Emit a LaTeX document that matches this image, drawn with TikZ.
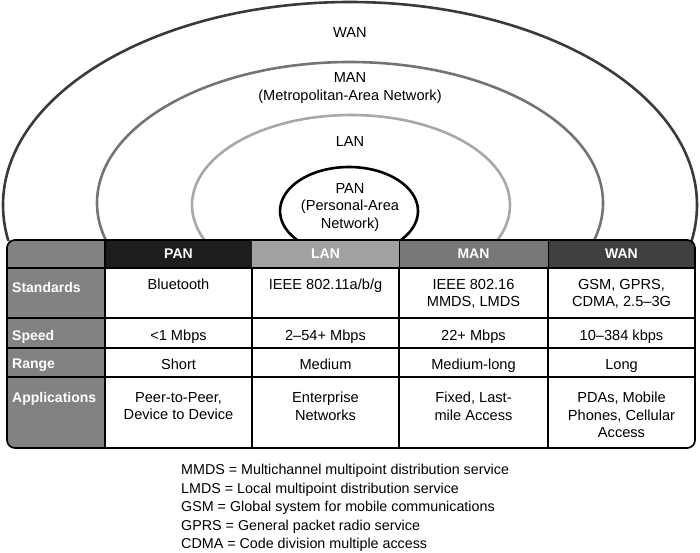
\documentclass[tikz,border=0pt]{standalone}
\usepackage{fontspec}
\setmainfont{Liberation Sans}
\usetikzlibrary{calc}
\usetikzlibrary{positioning}
\definecolor{wanring}{HTML}{3A3A3A}
\definecolor{manring}{HTML}{747474}
\definecolor{lanring}{HTML}{A8A8A8}
\definecolor{sidegray}{HTML}{828282}
\definecolor{panhead}{HTML}{1E1E1E}
\definecolor{lanhead}{HTML}{A2A2A2}
\definecolor{manhead}{HTML}{777777}
\definecolor{wanhead}{HTML}{404040}
\newcommand{\colorw}{wanring}
\newcommand{\colorm}{manring}
\newcommand{\colorl}{lanring}
\tikzset{
  ring/.style={line width=2.6pt},
  headtxt/.style={text=white, font=\fontsize{14}{17}\selectfont\bfseries},
  rowtxt/.style={text=white, font=\fontsize{14}{17}\selectfont\bfseries, anchor=west, inner sep=0pt},
  celltxt/.style={align=center, inner sep=0pt, anchor=north},
  ringtxt/.style={align=center, inner sep=0pt}
}

\begin{document}
\begin{tikzpicture}[x=1pt, y=-1pt, font=\fontsize{14.6}{17.5}\selectfont]
          \useasboundingbox (0,0) rectangle (700,552);

          % column and row lines of the table
          \foreach \x [count=\i from 0] in {7,105,252,399,548,695}{
            \coordinate (c\i) at (\x,0);
          }
          \foreach \y [count=\i from 0] in {240,268,318,348,377,448}{
            \coordinate (r\i) at (0,\y);
          }

          % rings
          \begin{scope}
            \clip (0,0) rectangle (700,240);
            \draw[ring, \colorw] (350,205) ellipse [x radius=347, y radius=203];
            \draw[ring, \colorm] (350,203) ellipse [x radius=253, y radius=141];
            \draw[ring, \colorl] (351,205) ellipse [x radius=159, y radius=90];
            \draw[ring, black] (349,211) ellipse [x radius=69, y radius=44];
          \end{scope}

          \node[ringtxt] (wan) at (350,32) {WAN};
          \node[ringtxt] (man) at (350,88) {MAN\\(Metropolitan-Area Network)};
          \node[ringtxt] (lan) at (350,141) {LAN};
          \node[ringtxt] (pan) at (350,207) {PAN\\(Personal-Area\\Network)};

          % table fills
          \begin{scope}
            \clip[rounded corners=8pt] (c0|-r0) rectangle (c5|-r5);
            \fill[white] (c0|-r0) rectangle (c5|-r5);
            \fill[sidegray] (c0|-r0) rectangle (c1|-r5);
            \fill[panhead] (c1|-r0) rectangle (c2|-r1);
            \fill[lanhead] (c2|-r0) rectangle (c3|-r1);
            \fill[manhead] (c3|-r0) rectangle (c4|-r1);
            \fill[wanhead] (c4|-r0) rectangle (c5|-r1);
          \end{scope}

          \foreach \i in {1,...,4}{
            \draw[line width=1.3pt] (c0|-r\i) -- (c5|-r\i);
          }
          \draw[line width=1.3pt] (c1|-r0) -- (c1|-r5);
          \foreach \i in {2,3,4}{
            \draw[line width=1.3pt] (c\i|-r1) -- (c\i|-r5);
          }
          \draw[line width=0.8pt] (c3|-r0) -- (c3|-r1) (c4|-r0) -- (c4|-r1);
          \draw[line width=1.7pt, rounded corners=8pt] (c0|-r0) rectangle (c5|-r5);

          % header row
          \foreach \n/\t [count=\i] in {hpan/PAN, hlan/LAN, hman/MAN, hwan/WAN}{
            \pgfmathsetmacro{\I}{int(\i+1)}
            \node[headtxt] (\n) at ($(c\i|-r0)!.5!(c\I|-r1)$) {\t};
          }

          % row labels
          \node[rowtxt] (lstd) at (12,287) {Standards};
          \node[rowtxt] (lspd) at (12,337) {Speed};
          \node[rowtxt] (lrng) at (12,365) {Range};
          \node[rowtxt] (lapp) at (12,399) {Applications};

          % cells
          \node[celltxt] (pstd) at (178.5,279) {Bluetooth};
          \node[celltxt] (lnstd) at (325.5,279) {IEEE 802.11a/b/g};
          \node[celltxt] (mstd) at (473.5,279) {IEEE 802.16\\MMDS, LMDS};
          \node[celltxt] (wstd) at (621.5,279) {GSM, GPRS,\\CDMA, 2.5--3G};

          \node[celltxt] (pspd) at (178.5,330) {<1 Mbps};
          \node[celltxt] (lnspd) at (325.5,330) {2--54+ Mbps};
          \node[celltxt] (mspd) at (473.5,330) {22+ Mbps};
          \node[celltxt] (wspd) at (621.5,330) {10--384 kbps};

          \node[celltxt] (prng) at (178.5,359) {Short};
          \node[celltxt] (lnrng) at (325.5,359) {Medium};
          \node[celltxt] (mrng) at (473.5,359) {Medium-long};
          \node[celltxt] (wrng) at (621.5,359) {Long};

          \node[celltxt] (papp) at (178.5,392) {Peer-to-Peer,\\Device to Device};
          \node[celltxt] (lnapp) at (325.5,392) {Enterprise\\Networks};
          \node[celltxt] (mapp) at (473.5,392) {Fixed, Last-\\mile Access};
          \node[celltxt] (wapp) at (621.5,392) {PDAs, Mobile\\Phones, Cellular\\Access};

          % abbreviations
          \node[align=left, anchor=north west, inner sep=0pt,
                font=\fontsize{14.3}{18.5}\selectfont] (abbr) at (181,464)
            {MMDS = Multichannel multipoint distribution service\\
             LMDS = Local multipoint distribution service\\
             GSM = Global system for mobile communications\\
             GPRS = General packet radio service\\
             CDMA = Code division multiple access};

        \end{tikzpicture}
\end{document}
